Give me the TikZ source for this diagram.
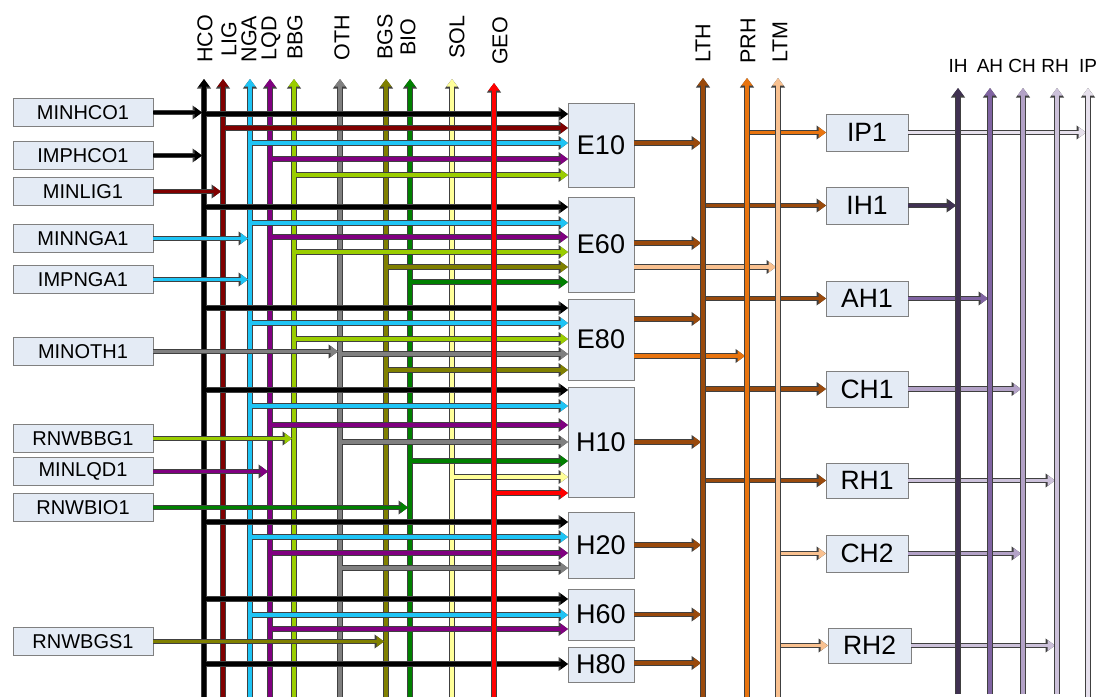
\documentclass[tikz,border=0pt]{standalone}
\usepackage{fontspec}
\setmainfont{Liberation Sans}
\usetikzlibrary{arrows.meta, positioning}

\definecolor{boxfill}{HTML}{E4EBF5}
\definecolor{boxline}{HTML}{808080}
\definecolor{edgeC}{HTML}{404040}
\definecolor{hcoC}{HTML}{000000}
\definecolor{ligC}{HTML}{800000}
\definecolor{ngaC}{HTML}{1EC4F5}
\definecolor{lqdC}{HTML}{800080}
\definecolor{bbgC}{HTML}{9ACD00}
\definecolor{othC}{HTML}{808080}
\definecolor{bgsC}{HTML}{808000}
\definecolor{bioC}{HTML}{008000}
\definecolor{solC}{HTML}{FFFF99}
\definecolor{geoC}{HTML}{FF0000}
\definecolor{lthC}{HTML}{9A4A0C}
\definecolor{prhC}{HTML}{E8740F}
\definecolor{ltmC}{HTML}{F9C190}
\definecolor{ihC}{HTML}{403152}
\definecolor{ahC}{HTML}{8064A2}
\definecolor{chC}{HTML}{B3A2C7}
\definecolor{rhC}{HTML}{CCC1DA}
\definecolor{ipC}{HTML}{E6E0EC}

\begin{document}
\begin{tikzpicture}[
    x=1pt, y=-1pt,
    srcbox/.style={draw=boxline, fill=boxfill, line width=0.8pt, inner sep=0pt, outer sep=0pt,
        minimum width=140pt, minimum height=28.5pt, font=\fontsize{20}{24}\selectfont},
    procbox/.style={draw=boxline, fill=boxfill, line width=0.8pt, inner sep=0pt, outer sep=0pt,
        minimum width=66pt, font=\fontsize{27}{30}\selectfont},
    endbox/.style={draw=boxline, fill=boxfill, line width=0.8pt, inner sep=0pt, outer sep=0pt,
        minimum width=82pt, minimum height=36pt, font=\fontsize{26.5}{30}\selectfont},
    buslabel/.style={rotate=90, inner sep=0pt, font=\fontsize{21.5}{24}\selectfont},
    toplabel/.style={inner sep=0pt, font=\fontsize{19}{22}\selectfont},
    flow/.style={draw=#1, line width=3.1pt, -{Triangle[length=7.5pt, width=10.5pt]},
        preaction={draw=edgeC, line width=5.1pt, -{Triangle[length=9.5pt, width=13.5pt]}}},
    into/.style={shorten >=2pt},
    outof/.style={shorten <=2pt}
]
\useasboundingbox (0,0) rectangle (1102,697);

% === Commodity buses (top) ===
\coordinate (hco) at (204,79);
\coordinate (lig) at (223,79);
\coordinate (nga) at (250,79);
\coordinate (lqd) at (270,79);
\coordinate (bbg) at (294,79);
\coordinate (oth) at (340,79);
\coordinate (bgs) at (386,79);
\coordinate (bio) at (410,79);
\coordinate (sol) at (452,79);
\coordinate (geo) at (494,83);
\coordinate (lth) at (703,78);
\coordinate (prh) at (747,78);
\coordinate (ltm) at (778,78);
\coordinate (ihb) at (958,88);
\coordinate (ahb) at (990,88);
\coordinate (chb) at (1023,88);
\coordinate (rhb) at (1057,88);
\coordinate (ipb) at (1088,88);

\node[buslabel] at (205,39) {HCO};
\node[buslabel] at (229,39) {LIG};
\node[buslabel] at (249,39) {NGA};
\node[buslabel] at (271,38) {LQD};
\node[buslabel] at (295,37) {BBG};
\node[buslabel] at (342,38) {OTH};
\node[buslabel] at (385,37) {BGS};
\node[buslabel] at (408,37) {BIO};
\node[buslabel] at (457,37) {SOL};
\node[buslabel] at (500,41) {GEO};
\node[buslabel] at (703,43) {LTH};
\node[buslabel] at (748,41) {PRH};
\node[buslabel] at (780,42) {LTM};
\node[toplabel] at (958,66) {IH};
\node[toplabel] at (990,66) {AH};
\node[toplabel] at (1022,66) {CH};
\node[toplabel] at (1055,66) {RH};
\node[toplabel] at (1088,66) {IP};

% === Sources (left column) ===
\node[srcbox] (minhco1) at (83,112.5) {MINHCO1};
\node[srcbox, below=14.5pt of minhco1] (imphco1) {IMPHCO1};
\node[srcbox, below=7.5pt of imphco1] (minlig1) {MINLIG1};
\node[srcbox, below=18.5pt of minlig1] (minnga1) {MINNGA1};
\node[srcbox, below=12.5pt of minnga1] (impnga1) {IMPNGA1};
\node[srcbox, below=43.5pt of impnga1] (minoth1) {MINOTH1};
\node[srcbox, below=58.5pt of minoth1] (rnwbbg1) {RNWBBG1};
\node[srcbox, below=4.5pt of rnwbbg1] (minlqd1) {MINLQD1};
\node[srcbox, below=7.5pt of minlqd1] (rnwbio1) {RNWBIO1};
\node[srcbox, below=105.5pt of rnwbio1] (rnwbgs1) {RNWBGS1};

% === Conversion processes ===
\node[procbox, minimum height=84pt] (e10) at (601,145) {E10};
\node[procbox, minimum height=95pt, below=10pt of e10] (e60) {E60};
\node[procbox, minimum height=81pt, below=7pt of e60] (e80) {E80};
\node[procbox, minimum height=110pt, below=7pt of e80] (h10) {H10};
\node[procbox, minimum height=66pt, below=15pt of h10] (h20) {H20};
\node[procbox, minimum height=51pt, below=11pt of h20] (h60) {H60};
\node[procbox, minimum height=35pt, below=7pt of h60] (h80) {H80};

% === Demand devices ===
\node[endbox, minimum height=37pt] (ip1) at (867,132.5) {IP1};
\node[endbox, minimum height=37pt, below=36pt of ip1] (ih1) {IH1};
\node[endbox, minimum height=35pt, below=57pt of ih1] (ah1) {AH1};
\node[endbox, below=55pt of ah1] (ch1) {CH1};
\node[endbox, minimum height=35pt, below=56pt of ch1] (rh1) {RH1};
\node[endbox, minimum height=37pt, below=37pt of rh1] (ch2) {CH2};
\node[endbox, minimum height=35pt, minimum width=83pt, below=56pt of ch2, xshift=2.5pt] (rh2) {RH2};

% ============ LEFT BUSES ============
\draw[flow=hcoC] (hco |- 0,697) -- (hco);
\draw[flow=ligC] (lig |- 0,697) -- (lig);
\draw[flow=ngaC] (nga |- 0,697) -- (nga);
\draw[flow=lqdC] (lqd |- 0,697) -- (lqd);
\draw[flow=bbgC] (bbg |- 0,697) -- (bbg);
\draw[flow=othC] (oth |- 0,697) -- (oth);
\draw[flow=bgsC] (bgs |- 0,697) -- (bgs);
\draw[flow=bioC] (bio |- 0,697) -- (bio);
\draw[flow=solC] (sol |- 0,697) -- (sol);

% Sources into buses
\draw[flow=hcoC, into] (minhco1) -- (minhco1 -| hco);
\draw[flow=hcoC, into] (imphco1) -- (imphco1 -| hco);
\draw[flow=ligC, into] (minlig1) -- (minlig1 -| lig);
\draw[flow=ngaC, into] (minnga1) -- (minnga1 -| nga);
\draw[flow=ngaC, into] (impnga1) -- (impnga1 -| nga);
\draw[flow=othC, into] (minoth1) -- (minoth1 -| oth);
\draw[flow=bbgC, into] (rnwbbg1) -- (rnwbbg1 -| bbg);
\draw[flow=lqdC, into] (minlqd1) -- (minlqd1 -| lqd);
\draw[flow=bioC, into] (rnwbio1) -- (rnwbio1 -| bio);
\draw[flow=bgsC, into] (rnwbgs1) -- (rnwbgs1 -| bgs);

% Buses into E10
\draw[flow=hcoC, outof] (hco |- 0,114) -- (e10.west |- 0,114);
\draw[flow=ligC, outof] (lig |- 0,128) -- (e10.west |- 0,128);
\draw[flow=ngaC, outof] (nga |- 0,143) -- (e10.west |- 0,143);
\draw[flow=lqdC, outof] (lqd |- 0,159) -- (e10.west |- 0,159);
\draw[flow=bbgC, outof] (bbg |- 0,175) -- (e10.west |- 0,175);

% Buses into E60
\draw[flow=hcoC, outof] (hco |- 0,207) -- (e60.west |- 0,207);
\draw[flow=ngaC, outof] (nga |- 0,223) -- (e60.west |- 0,223);
\draw[flow=lqdC, outof] (lqd |- 0,237) -- (e60.west |- 0,237);
\draw[flow=bbgC, outof] (bbg |- 0,252) -- (e60.west |- 0,252);
\draw[flow=bgsC, outof] (bgs |- 0,267) -- (e60.west |- 0,267);
\draw[flow=bioC, outof] (bio |- 0,282) -- (e60.west |- 0,282);

% Buses into E80
\draw[flow=hcoC, outof] (hco |- 0,308) -- (e80.west |- 0,308);
\draw[flow=ngaC, outof] (nga |- 0,323) -- (e80.west |- 0,323);
\draw[flow=bbgC, outof] (bbg |- 0,339) -- (e80.west |- 0,339);
\draw[flow=othC, outof] (oth |- 0,354) -- (e80.west |- 0,354);
\draw[flow=bgsC, outof] (bgs |- 0,370) -- (e80.west |- 0,370);

% Buses into H10
\draw[flow=hcoC, outof] (hco |- 0,390) -- (h10.west |- 0,390);
\draw[flow=ngaC, outof] (nga |- 0,406) -- (h10.west |- 0,406);
\draw[flow=lqdC, outof] (lqd |- 0,425) -- (h10.west |- 0,425);
\draw[flow=othC, outof] (oth |- 0,442) -- (h10.west |- 0,442);
\draw[flow=bioC, outof] (bio |- 0,461) -- (h10.west |- 0,461);
\draw[flow=solC, outof] (sol |- 0,477) -- (h10.west |- 0,477);

% Buses into H20, H60, H80
\draw[flow=hcoC, outof] (hco |- 0,522) -- (h20.west |- 0,522);
\draw[flow=ngaC, outof] (nga |- 0,537) -- (h20.west |- 0,537);
\draw[flow=lqdC, outof] (lqd |- 0,553) -- (h20.west |- 0,553);
\draw[flow=othC, outof] (oth |- 0,568) -- (h20.west |- 0,568);
\draw[flow=hcoC, outof] (hco |- 0,599) -- (h60.west |- 0,599);
\draw[flow=ngaC, outof] (nga |- 0,615) -- (h60.west |- 0,615);
\draw[flow=lqdC, outof] (lqd |- 0,629) -- (h60.west |- 0,629);
\draw[flow=hcoC, outof] (hco |- 0,664) -- (h80.west |- 0,664);

% Geothermal bus (drawn on top)
\draw[flow=geoC] (geo |- 0,697) -- (geo);
\draw[flow=geoC, outof] (geo |- 0,493) -- (h10.west |- 0,493);

% ============ MIDDLE ============
\draw[flow=lthC, into] ([yshift=2pt]e10.east) -- ([yshift=2pt]e10.east -| lth);
\draw[flow=lthC, into] ([yshift=1.5pt]e60.east) -- ([yshift=1.5pt]e60.east -| lth);
\draw[flow=ltmC, into] ([yshift=-22.5pt]e60.east) -- ([yshift=-22.5pt]e60.east -| ltm);
\draw[flow=lthC, into] ([yshift=20.5pt]e80.east) -- ([yshift=20.5pt]e80.east -| lth);
\draw[flow=prhC, into] ([yshift=-16.5pt]e80.east) -- ([yshift=-16.5pt]e80.east -| prh);
\draw[flow=lthC, into] (h10.east) -- (h10.east -| lth);
\draw[flow=lthC, into] (h20.east) -- (h20.east -| lth);
\draw[flow=lthC, into] (h60.east) -- (h60.east -| lth);
\draw[flow=lthC, into] ([yshift=1.5pt]h80.east) -- ([yshift=1.5pt]h80.east -| lth);

\draw[flow=prhC, outof] (ip1.west -| prh) -- (ip1.west);
\draw[flow=lthC, outof] (ih1.west -| lth) -- (ih1.west);
\draw[flow=lthC, outof] (ah1.west -| lth) -- (ah1.west);
\draw[flow=lthC, outof] (ch1.west -| lth) -- (ch1.west);
\draw[flow=lthC, outof] (rh1.west -| lth) -- (rh1.west);
\draw[flow=ltmC, outof] (ch2.west -| ltm) -- (ch2.west);
\draw[flow=ltmC, outof] (rh2.west -| ltm) -- (rh2.west);

\draw[flow=lthC] (lth |- 0,697) -- (lth);
\draw[flow=prhC] (prh |- 0,697) -- (prh);
\draw[flow=ltmC] (ltm |- 0,697) -- (ltm);

% ============ RIGHT ============
\draw[flow=ipC, into] (ip1) -- (ip1 -| ipb);
\draw[flow=ihC, into] (ih1) -- (ih1 -| ihb);
\draw[flow=ahC, into] (ah1) -- (ah1 -| ahb);
\draw[flow=chC, into] (ch1) -- (ch1 -| chb);
\draw[flow=rhC, into] (rh1) -- (rh1 -| rhb);
\draw[flow=chC, into] (ch2) -- (ch2 -| chb);
\draw[flow=rhC, into] (rh2) -- (rh2 -| rhb);

\draw[flow=ihC] (ihb |- 0,694) -- (ihb);
\draw[flow=ahC] (ahb |- 0,694) -- (ahb);
\draw[flow=chC] (chb |- 0,694) -- (chb);
\draw[flow=rhC] (rhb |- 0,694) -- (rhb);
\draw[flow=ipC] (ipb |- 0,697) -- (ipb);

\end{tikzpicture}
\end{document}
